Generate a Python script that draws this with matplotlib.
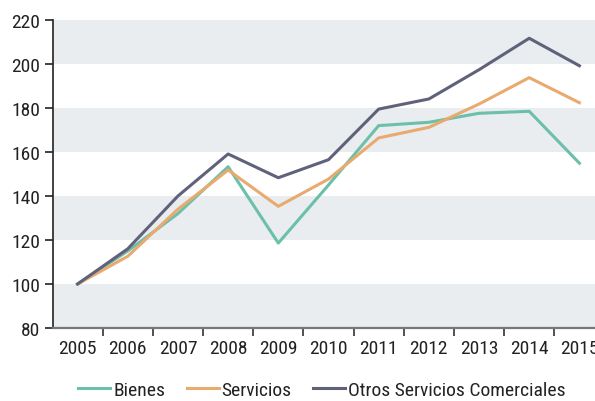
import matplotlib
matplotlib.use("Agg")
import matplotlib.pyplot as plt
import numpy as np

# ---------------------------------------------------------------------------
# Data (index, 2005 = 100)
# ---------------------------------------------------------------------------

years = ["2005", "2006", "2007", "2008", "2009", "2010",
         "2011", "2012", "2013", "2014", "2015"]
bienes = [100, 115, 132, 153.3, 118.6, 145, 172, 173.5, 177.6, 178.5, 154.9]
servicios = [100, 112.6, 134, 151.8, 135.3, 147.7, 166.4, 171.2, 181.8, 193.8, 182.4]
otros = [100, 116, 140, 159.1, 148.3, 156.5, 179.5, 184.1, 197.4, 211.7, 199.2]
series_names = ["Bienes", "Servicios", "Otros Servicios Comerciales"]
y_ticks = [80, 100, 120, 140, 160, 180, 200, 220]

colors = ["#6cbfaa", "#e8aa6e", "#5f627a"]

plt.rcParams['font.family'] = ["Roboto Condensed", "DejaVu Sans"]
FS = 14

fig = plt.figure(figsize=(5.95, 4.02), dpi=100)
ax = fig.add_axes([52.5 / 595, 1 - 329 / 402, 552 / 595, 308 / 402])

# alternating bands
for lo in y_ticks[:-1:2]:
    ax.axhspan(lo, lo + 20, color="#e9edf0", lw=0, zorder=0)

x = np.arange(len(years))
for vals, name, c in zip([bienes, servicios, otros], series_names, colors):
    ax.plot(x, vals, color=c, lw=2.2, label=name, zorder=3)

ax.set_xlim(-0.5, len(years) - 0.5)
ax.set_ylim(80, 220)
ax.set_yticks(y_ticks)
ax.set_yticklabels([str(v) for v in y_ticks], fontsize=FS, color="#222222")
ax.set_xticks(x)
ax.set_xticklabels(years, fontsize=FS, color="#222222")
ax.tick_params(axis='x', length=0, pad=8)
ax.set_xticks(np.arange(len(years)) + 0.5, minor=True)
ax.tick_params(axis='x', which='minor', length=6, width=1.2, color="#333333",
               direction='out')
ax.tick_params(axis='y', length=6, width=1.2, color="#222222", pad=3)

for s in ['top', 'right']:
    ax.spines[s].set_visible(False)
ax.spines['left'].set_color("#222222")
ax.spines['left'].set_linewidth(1.2)
ax.spines['bottom'].set_color("#777777")
ax.spines['bottom'].set_linewidth(1.6)

leg = fig.legend(loc='center', bbox_to_anchor=(322 / 595, 1 - 391 / 402), ncol=3,
                 frameon=False, fontsize=FS, handlelength=1.65, handletextpad=0.15,
                 columnspacing=1.1, labelcolor="#222222")

fig.savefig("out.png", dpi=100)
